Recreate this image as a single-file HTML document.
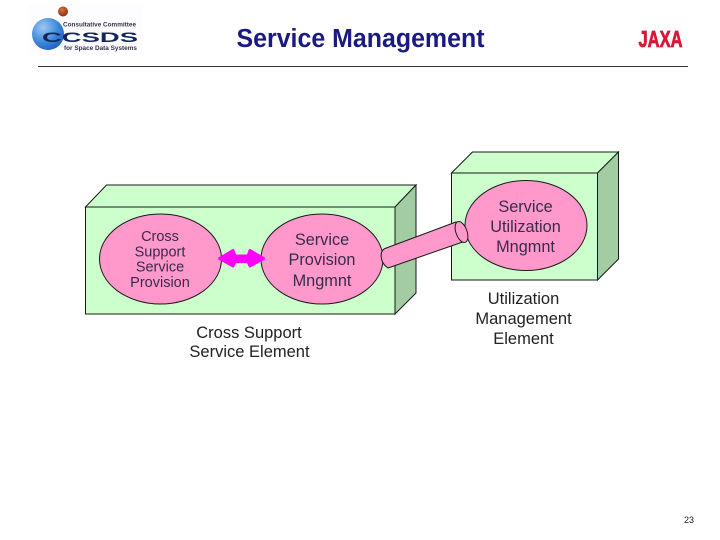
<!DOCTYPE html>
<html>
<head>
<meta charset="utf-8">
<style>
html,body{margin:0;padding:0;background:#fff}
svg{display:block}
text{font-family:"Liberation Sans",sans-serif}
</style>
</head>
<body>
<svg width="720" height="540" viewBox="0 0 720 540" xmlns="http://www.w3.org/2000/svg">
<defs>
<radialGradient id="g" cx="0.35" cy="0.3" r="0.8">
<stop offset="0" stop-color="#9cc8f0"/>
<stop offset="0.6" stop-color="#3a86dc"/>
<stop offset="1" stop-color="#1c5abc"/>
</radialGradient>
<radialGradient id="o" cx="0.4" cy="0.35" r="0.7">
<stop offset="0" stop-color="#d8703a"/>
<stop offset="1" stop-color="#8a2c10"/>
</radialGradient>
</defs>

<!-- logo -->
<rect x="28" y="3" width="115" height="52" fill="#fdfdff"/>
<circle cx="63" cy="11.500" r="5" fill="url(#o)"/>
<circle cx="48" cy="34" r="16" fill="url(#g)"/>
<text x="63" y="26.500" font-size="6.500" font-weight="bold" fill="#33334a" textLength="73" lengthAdjust="spacingAndGlyphs">Consultative Committee</text>
<text x="42" y="42" font-size="14" font-weight="bold" fill="#14245c" textLength="96" lengthAdjust="spacingAndGlyphs">CCSDS</text>
<text x="64" y="50" font-size="6.500" font-weight="bold" fill="#33334a" textLength="73" lengthAdjust="spacingAndGlyphs">for Space Data Systems</text>

<!-- title -->
<text x="360.500" y="47" font-size="25.500" font-weight="bold" fill="#1a1a80" text-anchor="middle" textLength="248" lengthAdjust="spacingAndGlyphs">Service Management</text>
<text x="660.500" y="47" font-size="23" font-weight="bold" fill="#d81838" stroke="#d81838" stroke-width="0.800" text-anchor="middle" textLength="44" lengthAdjust="spacingAndGlyphs">JAXA</text>
<line x1="38" y1="66.500" x2="688" y2="66.500" stroke="#333" stroke-width="1"/>

<!-- left box -->
<polygon points="85.500,207 106.500,185 416,185 395,207" fill="#ccffcc" stroke="#1a1a1a" stroke-width="1"/>
<polygon points="395,207 416,185 416,293 395,314" fill="#a3cca3" stroke="#1a1a1a" stroke-width="1"/>
<rect x="85.500" y="207" width="309.500" height="107" fill="#ccffcc" stroke="#1a1a1a" stroke-width="1"/>

<!-- right box -->
<polygon points="451.500,173 472.500,152 618.500,152 597.500,173" fill="#ccffcc" stroke="#1a1a1a" stroke-width="1"/>
<polygon points="597.500,173 618.500,152 618.500,259 597.500,280" fill="#a3cca3" stroke="#1a1a1a" stroke-width="1"/>
<rect x="451.500" y="173" width="146" height="107" fill="#ccffcc" stroke="#1a1a1a" stroke-width="1"/>

<!-- ellipses -->
<ellipse cx="160.500" cy="259" rx="61" ry="45" fill="#ff99cc" stroke="#1a1a1a" stroke-width="1"/>
<ellipse cx="322" cy="259" rx="61" ry="45" fill="#ff99cc" stroke="#1a1a1a" stroke-width="1"/>
<ellipse cx="526" cy="225.500" rx="61" ry="45" fill="#ff99cc" stroke="#1a1a1a" stroke-width="1"/>

<!-- cylinder -->
<path d="M456,222 L385,248.500 C379,251 380,263 388,268 L467,240.500 Z" fill="#ff99cc" stroke="#1a1a1a" stroke-width="1" stroke-linejoin="round"/>
<ellipse cx="461.500" cy="232" rx="5.500" ry="11" transform="rotate(-20 461.500 232)" fill="#ff99cc" stroke="#1a1a1a" stroke-width="1"/>

<!-- double arrow -->
<path d="M219.500,258.500 L233,250.500 L235,256 L248,256 L250,250.500 L263.500,258.500 L250,266 L248,261.500 L235,261.500 L233,266 Z" fill="#ff00ff" stroke="#ff00ff" stroke-width="3" stroke-linejoin="round"/>

<!-- labels -->
<g font-size="14.500" fill="#3a2a4a" text-anchor="middle">
<text x="160" y="241">Cross</text>
<text x="160" y="256.500">Support</text>
<text x="160" y="271.500">Service</text>
<text x="160" y="287">Provision</text>
</g>
<g font-size="16.300" fill="#3a2a4a" text-anchor="middle">
<text x="322" y="245">Service</text>
<text x="322" y="265">Provision</text>
<text x="322" y="286">Mngmnt</text>
<text x="525.500" y="212">Service</text>
<text x="525.500" y="232">Utilization</text>
<text x="525.500" y="252">Mngmnt</text>
</g>
<g font-size="16.500" fill="#222" text-anchor="middle">
<text x="249" y="338">Cross Support</text>
<text x="249.500" y="357">Service Element</text>
<text x="523.500" y="304">Utilization</text>
<text x="523.500" y="324">Management</text>
<text x="523.500" y="344">Element</text>
</g>
<text x="689" y="523" font-size="9" fill="#222" text-anchor="middle">23</text>
</svg>
</body>
</html>
